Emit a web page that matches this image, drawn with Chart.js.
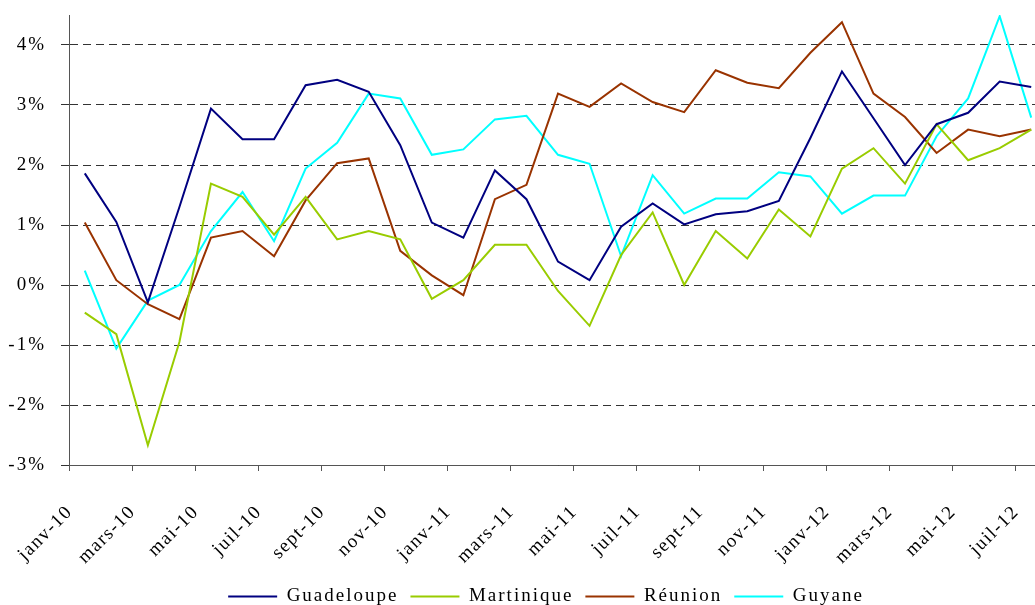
<!DOCTYPE html>
<html>
<head>
<meta charset="utf-8">
<script src="https://cdn.jsdelivr.net/npm/chart.js@4"></script>
<style>
  html, body { margin: 0; padding: 0; background: #fff; overflow: hidden; }
  canvas { display: block; }
</style>
</head>
<body>
<canvas id="chart" width="1092" height="605"></canvas>
<script>
// mois de janv-10 a juil-12
const months = ['janv-10','févr-10','mars-10','avr-10','mai-10','juin-10','juil-10','août-10','sept-10','oct-10','nov-10','déc-10',
  'janv-11','févr-11','mars-11','avr-11','mai-11','juin-11','juil-11','août-11','sept-11','oct-11','nov-11','déc-11',
  'janv-12','févr-12','mars-12','avr-12','mai-12','juin-12','juil-12'];

const guadeloupe = [1.86, 1.05, -0.29, 1.3, 2.94, 2.43, 2.43, 3.33, 3.42, 3.22, 2.33, 1.04, 0.79, 1.91, 1.43, 0.39,
  0.08, 0.97, 1.36, 1.01, 1.18, 1.23, 1.40, 2.45, 3.56, 2.78, 2.0, 2.68, 2.87, 3.39, 3.30];
const martinique = [-0.46, -0.82, -2.67, -0.95, 1.69, 1.47, 0.84, 1.47, 0.76, 0.90, 0.76, -0.23, 0.08, 0.67, 0.67, -0.1,
  -0.68, 0.5, 1.21, 0.0, 0.9, 0.44, 1.26, 0.81, 1.94, 2.28, 1.69, 2.68, 2.08, 2.28, 2.59];
const reunion = [1.04, 0.08, -0.32, -0.57, 0.79, 0.90, 0.48, 1.41, 2.03, 2.11, 0.57, 0.16, -0.17, 1.43, 1.67, 3.19,
  2.97, 3.36, 3.05, 2.88, 3.58, 3.37, 3.28, 3.87, 4.38, 3.19, 2.8, 2.2, 2.59, 2.48, 2.59];
const guyane = [0.24, -1.06, -0.26, 0.0, 0.90, 1.55, 0.73, 1.94, 2.37, 3.19, 3.11, 2.17, 2.26, 2.76, 2.82, 2.17,
  2.02, 0.48, 1.83, 1.19, 1.44, 1.44, 1.88, 1.81, 1.19, 1.49, 1.49, 2.48, 3.11, 4.48, 2.79];

const seriesNames = ['Guadeloupe', 'Martinique', 'Réunion', 'Guyane'];
const seriesColors = ['#000080', '#99cc00', '#993300', '#00ffff'];
const seriesData = [guadeloupe, martinique, reunion, guyane];

const yMin = -3, yMax = 4.5;
const serif = "'Liberation Serif', 'Times New Roman', serif";

const datasets = seriesNames.map((name, i) => ({
  label: name,
  data: seriesData[i],
  borderColor: seriesColors[i],
  backgroundColor: seriesColors[i],
  borderWidth: 2,
  pointRadius: 0,
  tension: 0,
  fill: false
}));

// le texte d'Excel est un peu espace (legende, axe y), un peu moins pour les mois
const spacing = {
  id: 'spacing',
  beforeLayout: chart => { chart.ctx.letterSpacing = '2px'; },
  beforeDraw: chart => {
    chart.ctx.letterSpacing = '2px';
    const sx = chart.scales.x;
    if (!sx._patched) {
      const orig = sx.drawLabels;
      sx.drawLabels = function (area) {
        this.ctx.letterSpacing = '1.5px';
        orig.call(this, area);
        this.ctx.letterSpacing = '2px';
      };
      sx._patched = true;
    }
  }
};

new Chart(document.getElementById('chart'), {
  type: 'line',
  data: { labels: months, datasets: datasets },
  plugins: [spacing],
  options: {
    responsive: false,
    animation: false,
    layout: { padding: { top: 15, left: 0, right: 0, bottom: -11 } },
    plugins: {
      tooltip: { enabled: false },
      legend: {
        position: 'bottom',
        labels: {
          font: { family: serif, size: 19 },
          color: '#000',
          boxWidth: 49,
          boxHeight: 2,
          padding: 12,
          generateLabels: chart => Chart.defaults.plugins.legend.labels.generateLabels(chart)
            .map(item => Object.assign(item, { lineWidth: 0 }))
        }
      }
    },
    scales: {
      x: {
        offset: true,
        grid: {
          offset: true,
          drawOnChartArea: false,
          tickLength: 6,
          tickColor: ctx => (ctx.index % 2 === 0 ? '#555' : 'rgba(0,0,0,0)')
        },
        border: { color: '#555', width: 1 },
        ticks: {
          autoSkip: false,
          maxRotation: 45,
          minRotation: 45,
          padding: 30,
          labelOffset: -15,
          color: '#000',
          font: { family: serif, size: 19 },
          callback: function (value, index) {
            return index % 2 === 0 ? this.getLabelForValue(value) : '';
          }
        },
        afterFit: scale => { scale.height = 110; scale.paddingLeft = 0; scale.paddingRight = 45; }
      },
      y: {
        min: yMin,
        max: yMax,
        grid: {
          color: '#333',
          tickLength: 8
        },
        border: { color: '#555', width: 1, dash: [8, 5] },
        ticks: {
          stepSize: 1,
          padding: 15,
          color: '#000',
          font: { family: serif, size: 19 },
          callback: v => v + '%'
        },
        afterBuildTicks: scale => {
          scale.ticks = scale.ticks.filter(t => Number.isInteger(t.value));
        },
        afterFit: scale => { scale.width = 69; scale.paddingTop = 0; scale.paddingBottom = 0; }
      }
    }
  }
});
</script>
</body>
</html>
